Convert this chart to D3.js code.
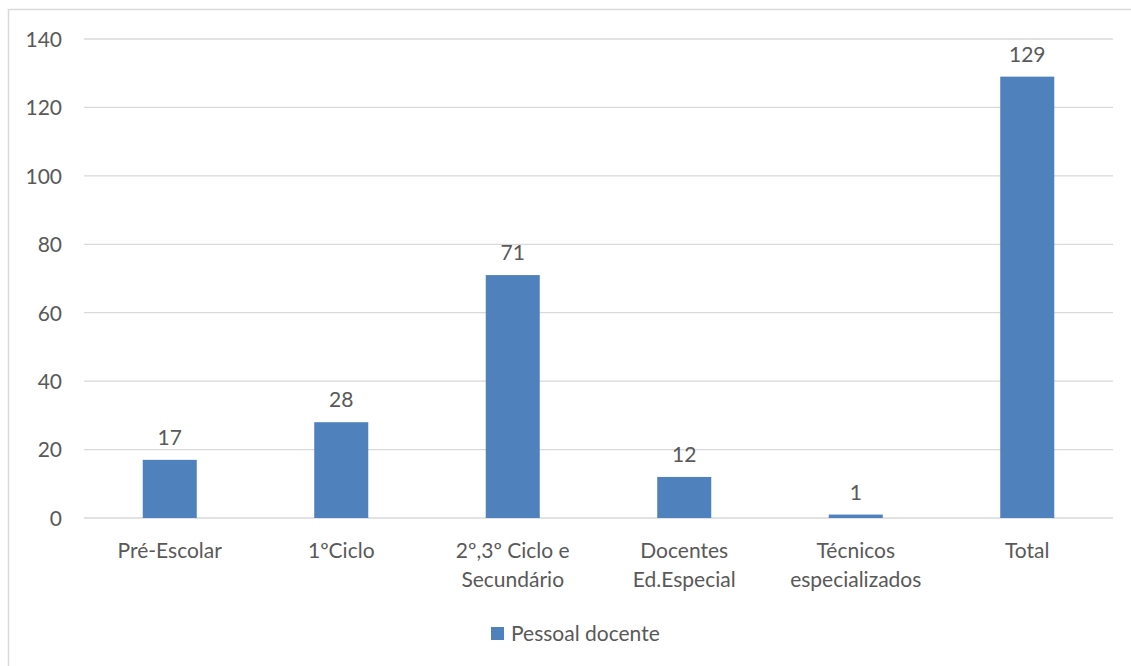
<!DOCTYPE html>
<html><head><meta charset="utf-8">
<script src="https://cdn.jsdelivr.net/npm/d3@7"></script>
<style>body{margin:0;background:#fff}svg{display:block}text{font-family:Lato,"Open Sans",sans-serif;fill:#595959}</style>
</head><body><div id="chart"></div>
<script>
const categories = [["Pré-Escolar"],["1ºCiclo"],["2º,3º Ciclo e","Secundário"],["Docentes","Ed.Especial"],["Técnicos","especializados"],["Total"]];
const values = [17, 28, 71, 12, 1, 129];
const yTicks = [0, 20, 40, 60, 80, 100, 120, 140];
const seriesName = "Pessoal docente";

const W = 1131, H = 666, FS = 21;
const svg = d3.select("#chart").append("svg").attr("width", W).attr("height", H);
svg.append("rect").attr("x", 8.5).attr("y", 9.5).attr("width", 1140).attr("height", 700)
  .attr("fill", "none").attr("stroke", "#d9d9d9").attr("stroke-width", 1.5);

const x = d3.scaleBand().domain(d3.range(categories.length)).range([84, 1113]).padding(0);
const y = d3.scaleLinear().domain([0, 140]).range([518, 39]);
const barW = x.bandwidth() * 0.315;

const grid = svg.append("g");
grid.selectAll("line").data(yTicks).join("line")
  .attr("x1", 84).attr("x2", 1113).attr("y1", d => y(d)).attr("y2", d => y(d))
  .attr("stroke", "#d9d9d9").attr("stroke-width", 1.3);

const yAxis = svg.append("g").attr("transform", "translate(62,0)")
  .call(d3.axisLeft(y).tickValues(yTicks).tickSize(0).tickPadding(0));
yAxis.select(".domain").remove();
yAxis.selectAll("text").attr("font-size", FS).attr("font-family", "Lato").attr("fill", "#595959").attr("dy", "0.35em");

svg.append("g").selectAll("rect").data(values).join("rect")
  .attr("x", (d, i) => x(i) + x.bandwidth() / 2 - barW / 2)
  .attr("width", barW)
  .attr("y", d => y(d))
  .attr("height", d => y(0) - y(d))
  .attr("fill", "#4f81bd");

svg.append("g").selectAll("text").data(values).join("text")
  .attr("x", (d, i) => x(i) + x.bandwidth() / 2)
  .attr("y", d => y(d) - 15)
  .attr("text-anchor", "middle").attr("font-size", FS).text(d => d);

const xl = svg.append("g").selectAll("text").data(categories).join("text")
  .attr("text-anchor", "middle").attr("font-size", FS)
  .attr("x", (d, i) => x(i) + x.bandwidth() / 2).attr("y", 558);
xl.selectAll("tspan").data(d => d).join("tspan")
  .attr("x", function () { return this.parentNode.getAttribute("x"); })
  .attr("dy", (d, j) => j === 0 ? 0 : 29).text(d => d);

const lg = svg.append("g");
lg.append("rect").attr("x", 491).attr("y", 627).attr("width", 13).attr("height", 13).attr("fill", "#4f81bd");
lg.append("text").attr("x", 511).attr("y", 641).attr("font-size", FS).text(seriesName);
</script></body></html>
